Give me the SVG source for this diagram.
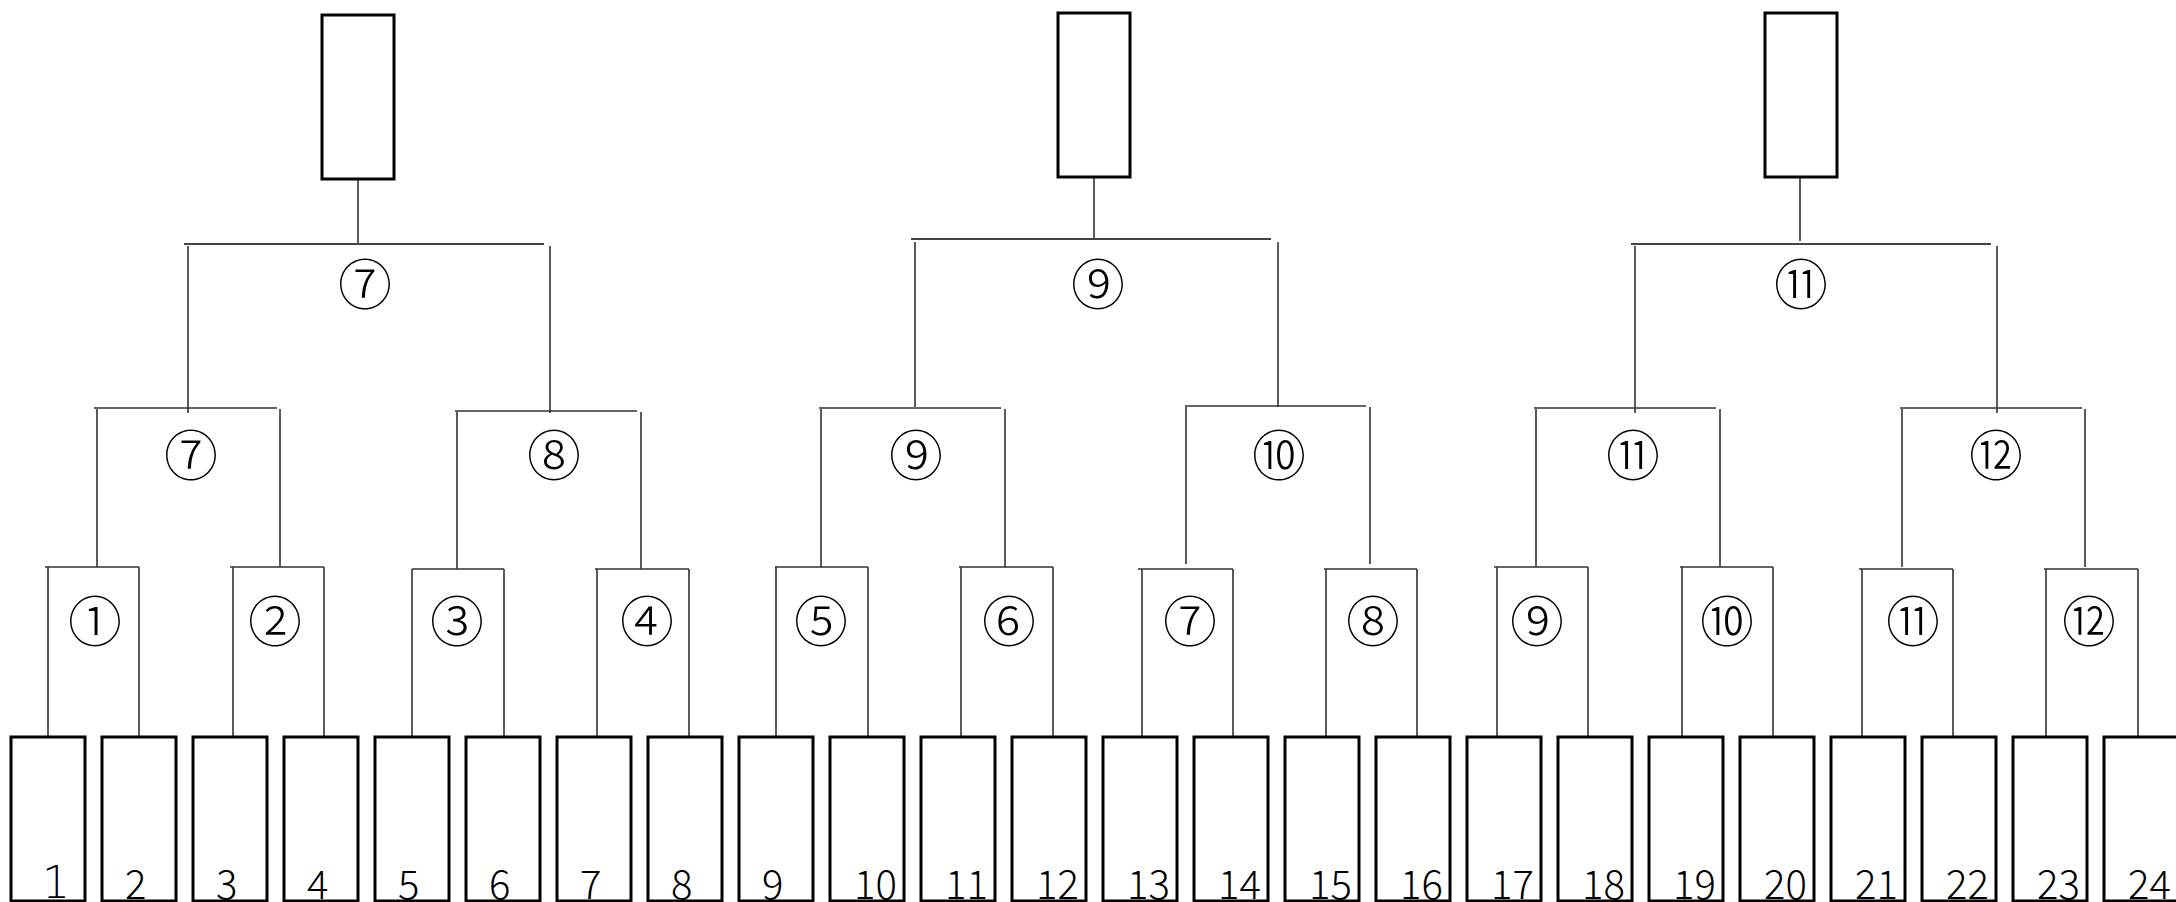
<svg xmlns="http://www.w3.org/2000/svg" width="2176" height="902" viewBox="0 0 2176 902">
<style>
.bg{fill:#ffffff}
.box{fill:#ffffff;stroke:#000000;stroke-width:3}
.ln{stroke:#333333;stroke-width:1.6;fill:none}
.h1{stroke:#444444;stroke-width:2;fill:none}
.lbl{font-family:"Noto Sans CJK JP","Liberation Sans",sans-serif;font-size:40px;font-weight:300;fill:#000000}
.one{font-family:"DejaVu Sans","Liberation Sans",sans-serif;font-size:44px;font-weight:200;fill:#000000}
.cn{font-family:"Noto Sans CJK JP","DejaVu Sans",sans-serif;font-size:54px;font-weight:300;fill:#000000;text-anchor:middle;dominant-baseline:central}
</style>
<rect class="bg" x="0" y="0" width="2176" height="902"/>
<g id="connectors">
<path class="ln" d="M358 180V244"/>
<path class="h1" d="M184 244H544"/>
<path class="ln" d="M188 246V413M550 246V413"/>
<path class="ln" d="M94 408H277M455 411H637"/>
<path class="ln" d="M97 409V567M280 409V567M457 412V569M641 412V569"/>
<path class="ln" d="M45 567H139M230 567H324M412 569H504M595 569H689"/>
<path class="ln" d="M48 567V736M139 567V736M233 567V736M324 567V736M412 569V738M504 569V738M597 569V738M689 569V738"/>
<path class="ln" d="M1094 178V240"/>
<path class="h1" d="M911 239H1271"/>
<path class="ln" d="M915 242V407M1278 242V407"/>
<path class="ln" d="M819 408H1001M1185 406H1366"/>
<path class="ln" d="M821 409V567M1005 409V567M1186 407V564M1370 407V564"/>
<path class="ln" d="M775 567H868M959 567H1053M1138 569H1233M1324 569H1417"/>
<path class="ln" d="M776 567V736M868 567V736M961 567V736M1053 567V736M1142 569V738M1233 569V738M1326 569V738M1417 569V738"/>
<path class="ln" d="M1800 178V241"/>
<path class="h1" d="M1631 244H1991"/>
<path class="ln" d="M1635 246V413M1997 246V413"/>
<path class="ln" d="M1534 408H1716M1900 408H2082"/>
<path class="ln" d="M1536 409V567M1720 409V567M1902 409V567M2085 409V567"/>
<path class="ln" d="M1494 567H1588M1680 567H1773M1859 569H1953M2044 569H2138"/>
<path class="ln" d="M1497 567V736M1588 567V736M1682 567V736M1773 567V736M1862 569V738M1953 569V738M2046 569V738M2138 569V738"/>
</g>
<g id="top-boxes">
<g id="top1"><rect class="box" x="322" y="15" width="72" height="164"/></g>
<g id="top2"><rect class="box" x="1058" y="13" width="72" height="164"/></g>
<g id="top3"><rect class="box" x="1765" y="13" width="72" height="164"/></g>
</g>
<g id="circled-labels">
<g id="c1-7"><text class="cn" x="365" y="281">⑦</text></g>
<g id="c1-9"><text class="cn" x="1098" y="281">⑨</text></g>
<g id="c1-11"><text class="cn" x="1801" y="281">⑪</text></g>
<g id="c2-7"><text class="cn" x="191" y="452">⑦</text></g>
<g id="c2-8"><text class="cn" x="554" y="452">⑧</text></g>
<g id="c2-9"><text class="cn" x="916" y="452">⑨</text></g>
<g id="c2-10"><text class="cn" x="1279" y="452">⑩</text></g>
<g id="c2-11"><text class="cn" x="1633" y="452">⑪</text></g>
<g id="c2-12"><text class="cn" x="1996" y="452">⑫</text></g>
<g id="c3-1"><text class="cn" x="95" y="618">①</text></g>
<g id="c3-2"><text class="cn" x="275" y="618">②</text></g>
<g id="c3-3"><text class="cn" x="457" y="618">③</text></g>
<g id="c3-4"><text class="cn" x="647" y="618">④</text></g>
<g id="c3-5"><text class="cn" x="821" y="618">⑤</text></g>
<g id="c3-6"><text class="cn" x="1009" y="618">⑥</text></g>
<g id="c3-7"><text class="cn" x="1190" y="618">⑦</text></g>
<g id="c3-8"><text class="cn" x="1373" y="618">⑧</text></g>
<g id="c3-9"><text class="cn" x="1537" y="618">⑨</text></g>
<g id="c3-10"><text class="cn" x="1727" y="618">⑩</text></g>
<g id="c3-11"><text class="cn" x="1913" y="618">⑪</text></g>
<g id="c3-12"><text class="cn" x="2089" y="618">⑫</text></g>
</g>
<g id="leaves">
<g id="leaf1"><rect class="box" x="11" y="737" width="74" height="164"/><text class="one" x="42" y="898">1</text></g>
<g id="leaf2"><rect class="box" x="102" y="737" width="74" height="164"/><text class="lbl" x="125" y="899">2</text></g>
<g id="leaf3"><rect class="box" x="193" y="737" width="74" height="164"/><text class="lbl" x="216" y="899">3</text></g>
<g id="leaf4"><rect class="box" x="284" y="737" width="74" height="164"/><text class="lbl" x="307" y="899">4</text></g>
<g id="leaf5"><rect class="box" x="375" y="737" width="74" height="164"/><text class="lbl" x="398" y="899">5</text></g>
<g id="leaf6"><rect class="box" x="466" y="737" width="74" height="164"/><text class="lbl" x="489" y="899">6</text></g>
<g id="leaf7"><rect class="box" x="557" y="737" width="74" height="164"/><text class="lbl" x="580" y="899">7</text></g>
<g id="leaf8"><rect class="box" x="648" y="737" width="74" height="164"/><text class="lbl" x="671" y="899">8</text></g>
<g id="leaf9"><rect class="box" x="739" y="737" width="74" height="164"/><text class="lbl" x="762" y="899">9</text></g>
<g id="leaf10"><rect class="box" x="830" y="737" width="74" height="164"/><text class="lbl" x="854" y="899">10</text></g>
<g id="leaf11"><rect class="box" x="921" y="737" width="74" height="164"/><text class="lbl" x="945" y="899">11</text></g>
<g id="leaf12"><rect class="box" x="1012" y="737" width="74" height="164"/><text class="lbl" x="1036" y="899">12</text></g>
<g id="leaf13"><rect class="box" x="1103" y="737" width="74" height="164"/><text class="lbl" x="1127" y="899">13</text></g>
<g id="leaf14"><rect class="box" x="1194" y="737" width="74" height="164"/><text class="lbl" x="1218" y="899">14</text></g>
<g id="leaf15"><rect class="box" x="1285" y="737" width="74" height="164"/><text class="lbl" x="1309" y="899">15</text></g>
<g id="leaf16"><rect class="box" x="1376" y="737" width="74" height="164"/><text class="lbl" x="1400" y="899">16</text></g>
<g id="leaf17"><rect class="box" x="1467" y="737" width="74" height="164"/><text class="lbl" x="1491" y="899">17</text></g>
<g id="leaf18"><rect class="box" x="1558" y="737" width="74" height="164"/><text class="lbl" x="1582" y="899">18</text></g>
<g id="leaf19"><rect class="box" x="1649" y="737" width="74" height="164"/><text class="lbl" x="1673" y="899">19</text></g>
<g id="leaf20"><rect class="box" x="1740" y="737" width="74" height="164"/><text class="lbl" x="1764" y="899">20</text></g>
<g id="leaf21"><rect class="box" x="1831" y="737" width="74" height="164"/><text class="lbl" x="1855" y="899">21</text></g>
<g id="leaf22"><rect class="box" x="1922" y="737" width="74" height="164"/><text class="lbl" x="1946" y="899">22</text></g>
<g id="leaf23"><rect class="box" x="2013" y="737" width="74" height="164"/><text class="lbl" x="2037" y="899">23</text></g>
<g id="leaf24"><rect class="box" x="2104" y="737" width="74" height="164"/><text class="lbl" x="2128" y="899">24</text></g>
</g>
</svg>
